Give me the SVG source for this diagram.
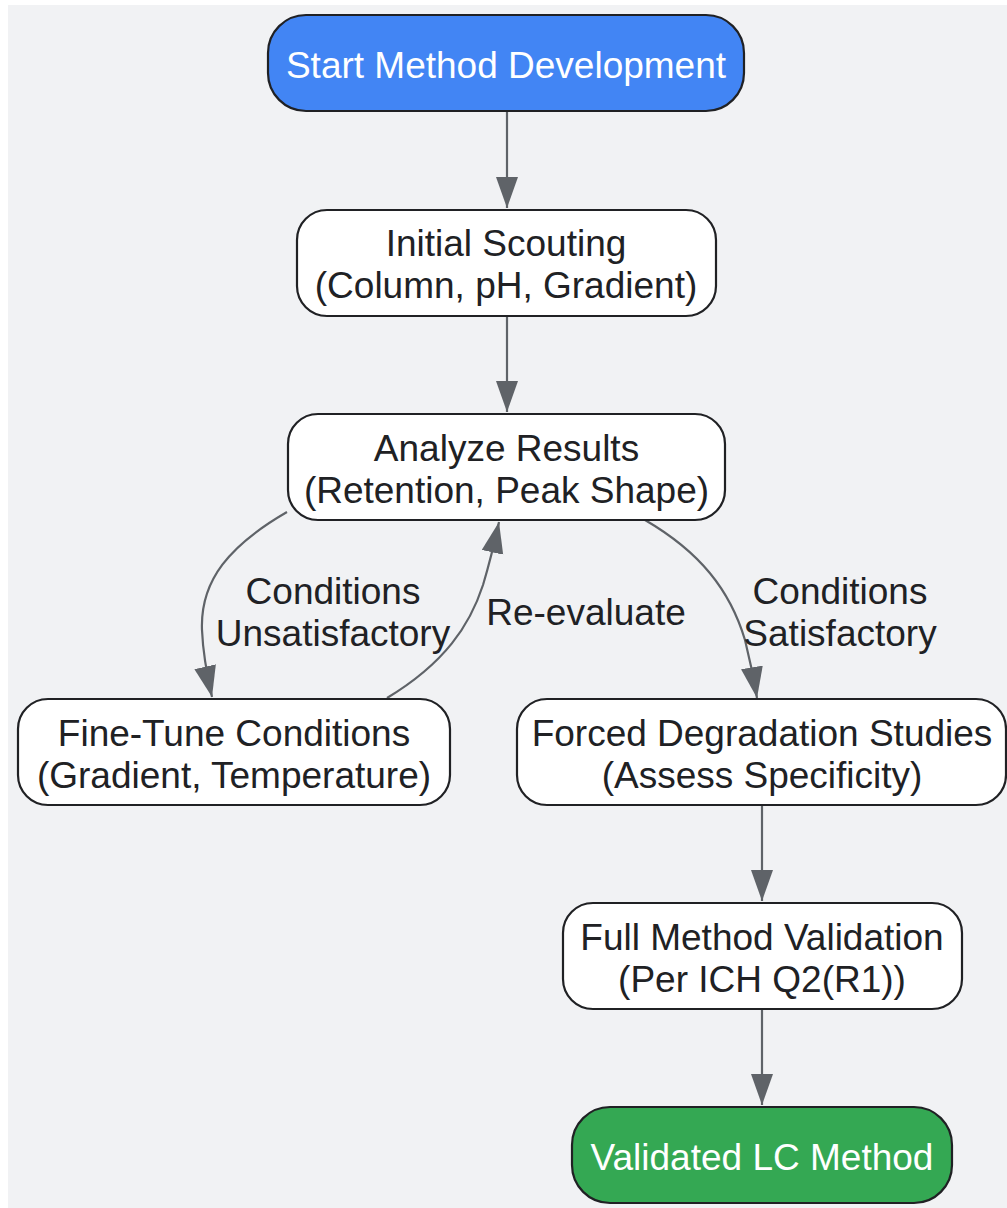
<svg xmlns="http://www.w3.org/2000/svg" width="1007" height="1208" viewBox="0 0 1007 1208">
<defs>
<style>
.bg{fill:#f1f2f4}
.node rect{stroke:#202124;stroke-width:2.2}
.plain{fill:#ffffff}
.start{fill:#4285f4}
.end{fill:#34a853}
text{font-family:"Liberation Sans",Arial,sans-serif;font-size:37px;text-anchor:middle;fill:#202124}
.light{fill:#ffffff}
.edge{fill:none;stroke:#5f6368;stroke-width:2.2;marker-end:url(#arrow)}
</style>
<marker id="arrow" markerUnits="userSpaceOnUse" markerWidth="32" markerHeight="24" refX="31" refY="11" orient="auto">
<path d="M0,0 L31,11 L0,22 z" fill="#5f6368"/>
</marker>
</defs>
<rect class="bg" x="8" y="5" width="999" height="1203"/>
<g id="connectors">
<path class="edge" d="M507,111 L507,208"/>
<path class="edge" d="M507,316 L507,412"/>
<path class="edge" d="M287,512 C230,545 200,580 202,630 C203,655 207,675 212,697"/>
<path class="edge" d="M387,698 C445,663 470,625 483,585 C489,565 494,545 499,522"/>
<path class="edge" d="M645,520 C700,552 730,590 745,640 C750,660 754,680 757,698"/>
<path class="edge" d="M762,805 L762,901"/>
<path class="edge" d="M762,1009 L762,1105"/>
<text x="333" y="604">Conditions</text>
<text x="333" y="646">Unsatisfactory</text>
<text x="586" y="625">Re-evaluate</text>
<text x="840" y="604">Conditions</text>
<text x="840" y="646">Satisfactory</text>
</g>
<g id="start" class="node">
<rect class="start" x="268" y="15" width="476" height="96" rx="38"/>
<text class="light" x="506" y="78">Start Method Development</text>
</g>
<g id="scouting" class="node">
<rect class="plain" x="297" y="210" width="419" height="106" rx="30"/>
<text x="506" y="256">Initial Scouting</text>
<text x="506" y="298">(Column, pH, Gradient)</text>
</g>
<g id="analyze" class="node">
<rect class="plain" x="288" y="414" width="437" height="106" rx="30"/>
<text x="506.5" y="461">Analyze Results</text>
<text x="506.5" y="503">(Retention, Peak Shape)</text>
</g>
<g id="finetune" class="node">
<rect class="plain" x="18" y="699" width="432" height="106" rx="30"/>
<text x="234" y="746">Fine-Tune Conditions</text>
<text x="234" y="788">(Gradient, Temperature)</text>
</g>
<g id="forced" class="node">
<rect class="plain" x="517" y="699" width="489" height="106" rx="30"/>
<text x="762" y="746">Forced Degradation Studies</text>
<text x="762" y="788">(Assess Specificity)</text>
</g>
<g id="validation" class="node">
<rect class="plain" x="563" y="903" width="399" height="106" rx="30"/>
<text x="762" y="950">Full Method Validation</text>
<text x="762" y="992">(Per ICH Q2(R1))</text>
</g>
<g id="validated" class="node">
<rect class="end" x="572" y="1107" width="380" height="96" rx="38"/>
<text class="light" x="762" y="1170">Validated LC Method</text>
</g>
</svg>
